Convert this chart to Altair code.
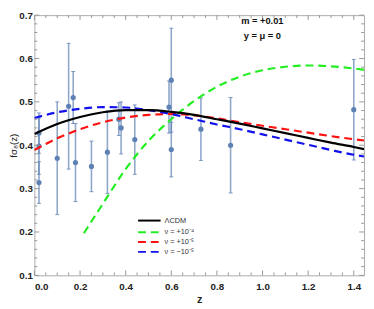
import altair as alt
import pandas as pd

# observational f*sigma8 data
z_obs = [0.02, 0.02, 0.02, 0.10, 0.15, 0.17, 0.18, 0.25, 0.32, 0.37, 0.38, 0.44, 0.59, 0.60, 0.60, 0.73, 0.86, 1.40]
fs8_obs = [0.428, 0.398, 0.314, 0.370, 0.490, 0.510, 0.360, 0.3512, 0.384, 0.4602, 0.440, 0.413, 0.488, 0.390, 0.550, 0.437, 0.400, 0.482]
err_obs = [0.0465, 0.065, 0.048, 0.130, 0.145, 0.060, 0.090, 0.0583, 0.095, 0.0378, 0.060, 0.080, 0.060, 0.063, 0.120, 0.072, 0.110, 0.116]

# model curves
z_grid = [0.0, 0.1, 0.2, 0.3, 0.4, 0.5, 0.6, 0.7, 0.8, 0.9, 1.0, 1.1, 1.2, 1.3, 1.4, 1.445]
f_lcdm = [0.426, 0.449, 0.465, 0.476, 0.481, 0.481, 0.477, 0.470, 0.460, 0.450, 0.439, 0.428, 0.417, 0.406, 0.396, 0.391]
f_red = [0.389, 0.416, 0.437, 0.453, 0.464, 0.470, 0.472, 0.469, 0.462, 0.453, 0.445, 0.437, 0.429, 0.421, 0.414, 0.411]
f_blue = [0.463, 0.476, 0.484, 0.488, 0.487, 0.481, 0.472, 0.460, 0.448, 0.437, 0.425, 0.413, 0.401, 0.389, 0.378, 0.374]
z_green = [0.217, 0.3, 0.4, 0.5, 0.6, 0.7, 0.8, 0.9, 1.0, 1.1, 1.2, 1.3, 1.4, 1.445]
f_green = [0.197, 0.265, 0.345, 0.410, 0.460, 0.502, 0.535, 0.558, 0.573, 0.581, 0.584, 0.582, 0.577, 0.574]

legend_labels = ["ΛCDM", "ν = +10⁻⁴", "ν = +10⁻⁵", "ν = −10⁻⁵"]
annot_lines = ["m = +0.01", "y = μ = 0"]

x_major = [0.0, 0.2, 0.4, 0.6, 0.8, 1.0, 1.2, 1.4]
x_minor = [0.05, 0.1, 0.15, 0.25, 0.3, 0.35, 0.45, 0.5, 0.55, 0.65, 0.7, 0.75, 0.85, 0.9, 0.95, 1.05, 1.1, 1.15, 1.25, 1.3, 1.35]
y_major = [0.1, 0.2, 0.3, 0.4, 0.5, 0.6, 0.7]
y_minor = [0.12, 0.14, 0.16, 0.18, 0.22, 0.24, 0.26, 0.28, 0.32, 0.34, 0.36, 0.38,
           0.42, 0.44, 0.46, 0.48, 0.52, 0.54, 0.56, 0.58, 0.62, 0.64, 0.66, 0.68]

W, H = 337, 266
XDOM = [0, 1.445]
YDOM = [0.1, 0.7]

xs = alt.Scale(domain=XDOM, nice=False, zero=False)
ys = alt.Scale(domain=YDOM, nice=False, zero=False)

obs = pd.DataFrame({"z": z_obs, "f": fs8_obs})
obs["lo"] = [f - e for f, e in zip(fs8_obs, err_obs)]
obs["hi"] = [f + e for f, e in zip(fs8_obs, err_obs)]

PT = "#5E81B5"

base = alt.Chart(obs)
xenc = alt.X("z:Q", scale=xs, title="z",
             axis=alt.Axis(values=x_major, format=".1f", labelPadding=6, titlePadding=3,
                           titleFontWeight="bold", titleFontSize=11))
yenc = alt.Y("f:Q", scale=ys, title="fσ₈(z)",
             axis=alt.Axis(values=y_major, format=".1f", labelPadding=2,
                           titleX=-21, titleBaseline="middle", titleFontWeight="normal",
                           titleFontSize=10))

points = base.mark_circle(size=28, color=PT, opacity=1).encode(x=xenc, y=yenc)
bars = base.mark_rule(color=PT, strokeWidth=1.6, opacity=0.7).encode(x="z:Q", y="lo:Q", y2="hi:Q")
cap_lo = base.mark_tick(color=PT, orient="horizontal", size=4, thickness=1, opacity=0.8).encode(x="z:Q", y="lo:Q")
cap_hi = base.mark_tick(color=PT, orient="horizontal", size=4, thickness=1, opacity=0.8).encode(x="z:Q", y="hi:Q")


def curve(zv, fv, color, dash):
    df = pd.DataFrame({"z": zv, "f": fv})
    kw = dict(color=color, strokeWidth=2.2, clip=True, interpolate="monotone")
    if dash:
        kw["strokeDash"] = [8, 5]
    return alt.Chart(df).mark_line(**kw).encode(
        x=alt.X("z:Q", scale=xs), y=alt.Y("f:Q", scale=ys))


green = curve(z_green, f_green, "#22ee22", True)
red = curve(z_grid, f_red, "#ff1111", True)
blue = curve(z_grid, f_blue, "#1111ee", True)
black = curve(z_grid, f_lcdm, "#000000", False)

# inward frame ticks
TK = "#999999"


def yticks(vals, length):
    df = pd.DataFrame({"v": vals})
    left = alt.Chart(df).mark_rule(color=TK, strokeWidth=1).encode(
        y=alt.Y("v:Q", scale=ys), x=alt.value(0), x2=alt.value(length))
    right = alt.Chart(df).mark_rule(color=TK, strokeWidth=1).encode(
        y=alt.Y("v:Q", scale=ys), x=alt.value(W), x2=alt.value(W - length))
    return [left, right]


def xticks(vals, length):
    df = pd.DataFrame({"v": vals})
    bottom = alt.Chart(df).mark_rule(color=TK, strokeWidth=1).encode(
        x=alt.X("v:Q", scale=xs), y=alt.value(H), y2=alt.value(H - length))
    top = alt.Chart(df).mark_rule(color=TK, strokeWidth=1).encode(
        x=alt.X("v:Q", scale=xs), y=alt.value(0), y2=alt.value(length))
    return [bottom, top]


tick_layers = yticks(y_major, 5) + yticks(y_minor, 3) + xticks(x_major, 5) + xticks(x_minor, 3)

# legend (manual)
leg_colors = ["#000000", "#22ee22", "#ff1111", "#1111ee"]
leg_dash = [None, [8, 5], [8, 5], [8, 5]]
leg_y = [210, 222, 232, 242]
leg_layers = []
for lab, col, dsh, yy in zip(legend_labels, leg_colors, leg_dash, leg_y):
    d = pd.DataFrame({"t": [lab]})
    kw = dict(color=col, strokeWidth=2)
    if dsh:
        kw["strokeDash"] = dsh
    leg_layers.append(alt.Chart(d).mark_rule(**kw).encode(
        x=alt.value(106), x2=alt.value(129), y=alt.value(yy)))
    leg_layers.append(alt.Chart(d).mark_text(
        align="left", baseline="middle", fontSize=7.5, color="#333333",
        font="Liberation Sans").encode(text="t:N", x=alt.value(133), y=alt.value(yy)))

ann_layers = []
for txt, yy in zip(annot_lines, [6, 21]):
    ann_layers.append(alt.Chart(pd.DataFrame({"t": [txt]})).mark_text(
        align="center", baseline="middle", fontSize=9.5, fontWeight="bold", color="#111111",
        font="Liberation Sans").encode(text="t:N", x=alt.value(233), y=alt.value(yy)))

chart = alt.layer(
    bars, cap_lo, cap_hi, points, green, red, blue, black, *tick_layers, *leg_layers, *ann_layers
).properties(
    width=W, height=H,
    autosize=alt.AutoSizeParams(type="none"),
    padding={"left": 27, "top": 4, "right": 2, "bottom": 27},
).configure_view(
    stroke="#aaaaaa", strokeWidth=1
).configure_axis(
    domain=False, ticks=False, grid=False,
    labelFont="Liberation Sans", labelFontWeight="bold", labelFontSize=10, labelColor="#222222",
    titleFont="Liberation Sans", titleColor="#222222",
)

chart.save("out.html", embed_options={"renderer": "svg", "actions": False})
